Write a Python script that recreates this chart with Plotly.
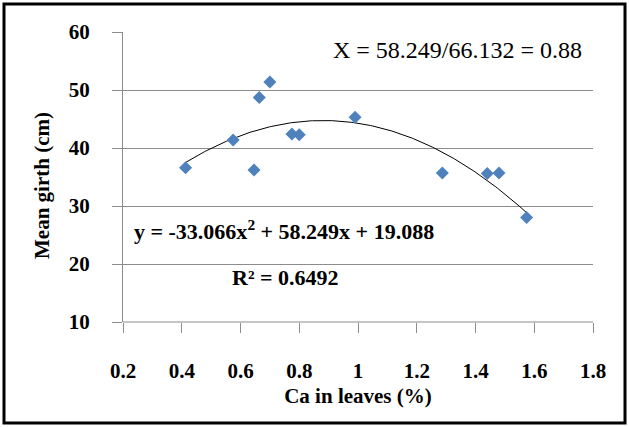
import numpy as np
import plotly.graph_objects as go

ca = [0.413, 0.575, 0.646, 0.664, 0.70, 0.775, 0.80, 0.99, 1.287, 1.44, 1.48, 1.574]
girth = [36.6, 41.4, 36.2, 48.7, 51.4, 42.4, 42.3, 45.3, 35.7, 35.6, 35.7, 28.0]
coef = [-33.066, 58.249, 19.088]
x_ticks = [0.2, 0.4, 0.6, 0.8, 1.0, 1.2, 1.4, 1.6, 1.8]
x_ticktext = ["0.2", "0.4", "0.6", "0.8", "1", "1.2", "1.4", "1.6", "1.8"]
y_ticks = [10, 20, 30, 40, 50, 60]

xs = np.linspace(min(ca), max(ca), 200)
ys = coef[0] * xs**2 + coef[1] * xs + coef[2]

W, H = 629, 427
ml, mr, mt, mb = 123, 36, 32, 105
pw, ph = W - ml - mr, H - mt - mb

def px(x):
    return (x - ml) / pw

def py(y):
    return (H - mb - y) / ph

serif = "Times New Roman, DejaVu Serif, serif"
grid = "#8c8c8c"

fig = go.Figure()
fig.add_trace(go.Scatter(x=xs, y=ys, mode="lines", line=dict(color="black", width=1), hoverinfo="skip", showlegend=False))
fig.add_trace(go.Scatter(x=ca, y=girth, mode="markers",
                         marker=dict(symbol="diamond", size=10, color="#4F81BD"), showlegend=False))

fig.update_layout(
    width=W, height=H, margin=dict(l=ml, r=mr, t=mt, b=mb),
    plot_bgcolor="white", paper_bgcolor="white",
    font=dict(family=serif, color="black", size=20),
    xaxis=dict(range=[0.2, 1.8], tickvals=x_ticks, ticktext=x_ticktext, showgrid=False,
               ticks="outside", ticklen=10, tickcolor=grid, showline=False, zeroline=False,
               tickfont=dict(family=serif, size=21, weight="bold"), ticklabelstandoff=20,
               title=dict(text="<b>Ca in leaves (%)</b>", font=dict(family=serif, size=21), standoff=6)),
    yaxis=dict(range=[10, 60], tickvals=y_ticks, showgrid=True, gridcolor=grid, gridwidth=1,
               ticks="outside", ticklen=10, tickcolor=grid, showline=True, linecolor=grid, linewidth=1,
               zeroline=False, tickfont=dict(family=serif, size=21, weight="bold"), ticklabelstandoff=18),
    shapes=[
        dict(type="line", xref="paper", yref="paper", x0=0, x1=1, y0=0, y1=0, line=dict(color=grid, width=1)),
        dict(type="rect", xref="paper", yref="paper", x0=px(4), x1=px(625), y0=py(423), y1=py(4),
             line=dict(color="black", width=3), layer="above"),
    ],
    annotations=[
        dict(x=px(42), y=py(186), xref="paper", yref="paper", xanchor="center", yanchor="middle",
             text="<b>Mean girth (cm)</b>", textangle=-90, showarrow=False, font=dict(size=21, family=serif)),
        dict(x=px(584), y=py(50), xref="paper", yref="paper", xanchor="right", yanchor="middle",
             text="X = 58.249/66.132 = 0.88", showarrow=False, font=dict(size=24, family=serif)),
        dict(x=px(132), y=py(230), xref="paper", yref="paper", xanchor="left", yanchor="middle",
             text="<b>y = -33.066x<sup>2</sup> + 58.249x + 19.088</b>", showarrow=False, font=dict(size=22, family=serif)),
        dict(x=px(230), y=py(277), xref="paper", yref="paper", xanchor="left", yanchor="middle",
             text="<b>R² = 0.6492</b>", showarrow=False, font=dict(size=22, family=serif)),
    ],
)

fig.write_html("out.html")
